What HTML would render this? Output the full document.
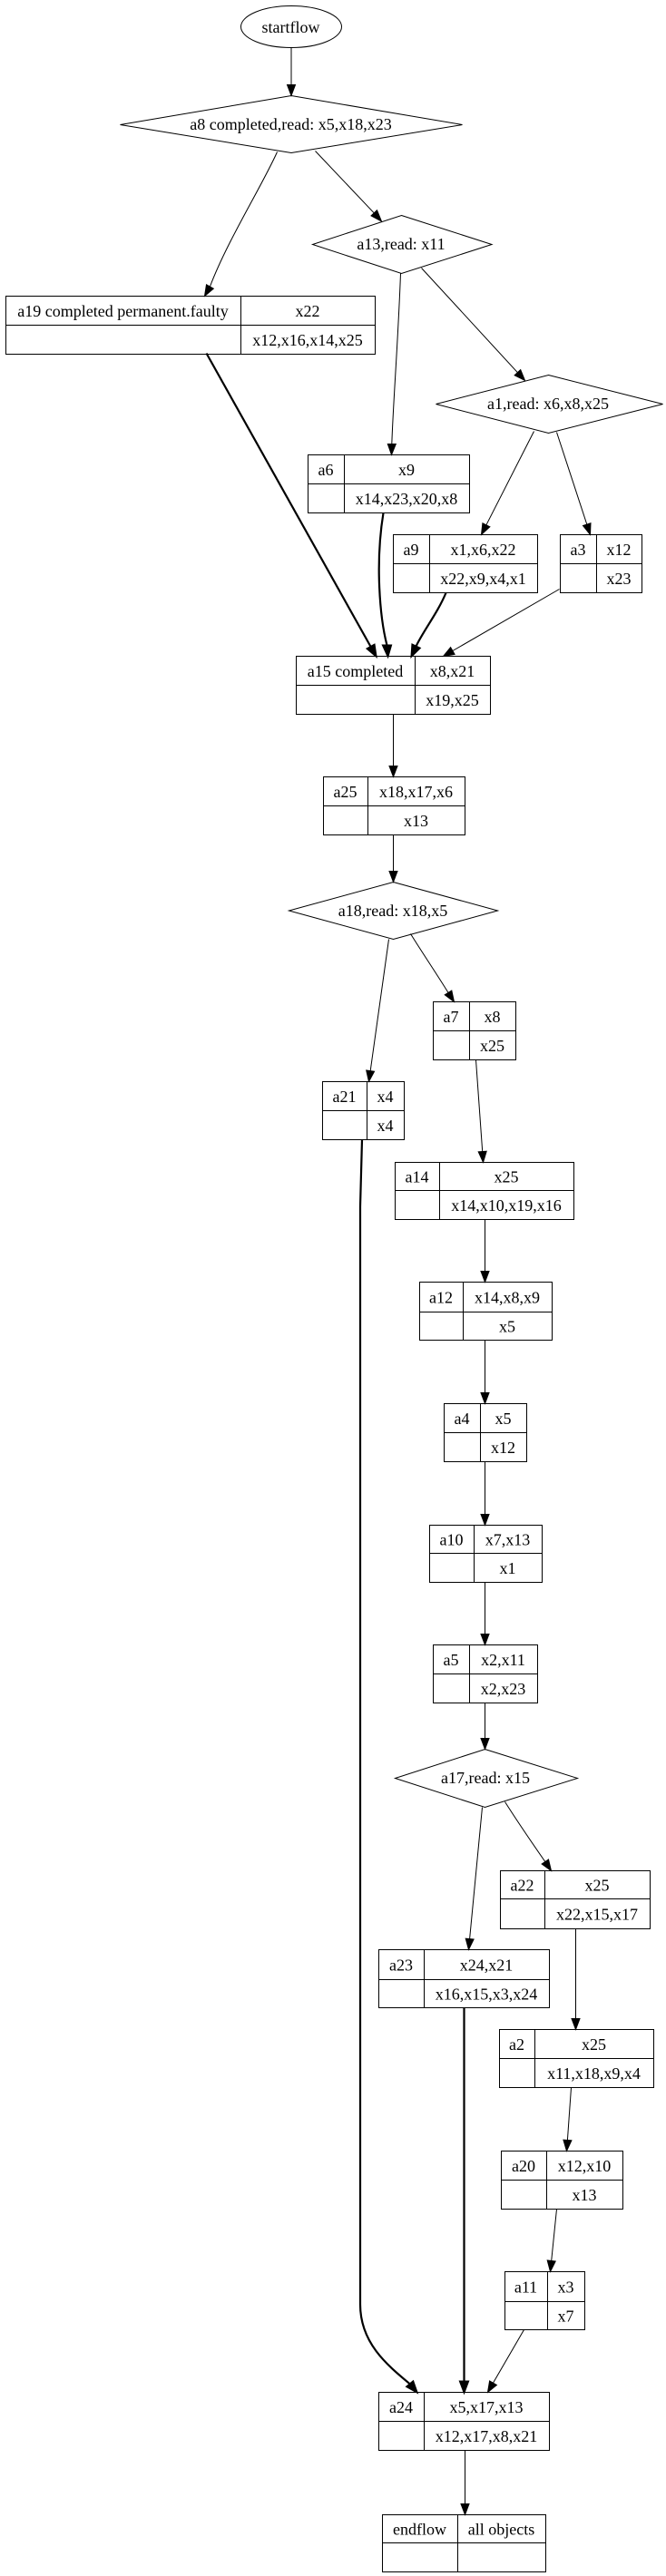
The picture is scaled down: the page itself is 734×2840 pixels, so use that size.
<!DOCTYPE html>
<html>
<head>
<meta charset="utf-8">
<style>
  html, body { margin:0; padding:0; background:#fff; }
  svg { display:block; }
  text { font-family: "Liberation Serif", "Times New Roman", serif; font-size:18px; fill:#000; text-anchor:middle; }
</style>
</head>
<body>
<svg width="734" height="2840" viewBox="0 0 734 2840" xmlns="http://www.w3.org/2000/svg">
<rect x="0" y="0" width="734" height="2840" fill="#fff"/>
<g transform="translate(0.5,0.5)" fill="none" stroke="#000" stroke-width="1">

<!-- startflow -->
<ellipse cx="320.5" cy="29" rx="55.5" ry="23"/>
<!-- diamonds -->
<polygon points="320.5,105 509,137 320.5,168 132,137"/>
<polygon points="442,237 541.5,269 442,301 344,269"/>
<polygon points="604,413 730,445 604,477 480,445"/>
<polygon points="433,972 548,1003.5 433,1035 318,1003.5"/>
<polygon points="534,1928 636,1960 534,1992 435,1960"/>

<!-- records: rect, vertical divider, horizontal divider -->
<rect x="6" y="326" width="407" height="64"/><line x1="265" y1="326" x2="265" y2="390"/><line x1="6" y1="358" x2="413" y2="358"/>
<rect x="339" y="501" width="178" height="64"/><line x1="379" y1="501" x2="379" y2="565"/><line x1="339" y1="533" x2="517" y2="533"/>
<rect x="433" y="589" width="159" height="64"/><line x1="473" y1="589" x2="473" y2="653"/><line x1="433" y1="621" x2="592" y2="621"/>
<rect x="617" y="589" width="90" height="64"/><line x1="657" y1="589" x2="657" y2="653"/><line x1="617" y1="621" x2="707" y2="621"/>
<rect x="326" y="723" width="214" height="64"/><line x1="457" y1="723" x2="457" y2="787"/><line x1="326" y1="755" x2="540" y2="755"/>
<rect x="356" y="856" width="156" height="64"/><line x1="405" y1="856" x2="405" y2="920"/><line x1="356" y1="888" x2="512" y2="888"/>
<rect x="477" y="1104" width="91" height="64"/><line x1="517" y1="1104" x2="517" y2="1168"/><line x1="477" y1="1136" x2="568" y2="1136"/>
<rect x="355" y="1192" width="90" height="64"/><line x1="404" y1="1192" x2="404" y2="1256"/><line x1="355" y1="1224" x2="445" y2="1224"/>
<rect x="435" y="1281" width="197" height="63"/><line x1="484" y1="1281" x2="484" y2="1344"/><line x1="435" y1="1312" x2="632" y2="1312"/>
<rect x="462" y="1413" width="146" height="64"/><line x1="510" y1="1413" x2="510" y2="1477"/><line x1="462" y1="1446" x2="608" y2="1446"/>
<rect x="489" y="1547" width="91" height="64"/><line x1="529" y1="1547" x2="529" y2="1611"/><line x1="489" y1="1579" x2="580" y2="1579"/>
<rect x="473" y="1681" width="124" height="63"/><line x1="522" y1="1681" x2="522" y2="1744"/><line x1="473" y1="1712" x2="597" y2="1712"/>
<rect x="477" y="1813" width="115" height="64"/><line x1="517" y1="1813" x2="517" y2="1877"/><line x1="477" y1="1845" x2="592" y2="1845"/>
<rect x="551" y="2062" width="165" height="64"/><line x1="600" y1="2062" x2="600" y2="2126"/><line x1="551" y1="2093" x2="716" y2="2093"/>
<rect x="417" y="2149" width="188" height="64"/><line x1="467" y1="2149" x2="467" y2="2213"/><line x1="417" y1="2182" x2="605" y2="2182"/>
<rect x="550" y="2237" width="170" height="64"/><line x1="589" y1="2237" x2="589" y2="2301"/><line x1="550" y1="2269" x2="720" y2="2269"/>
<rect x="552" y="2371" width="134" height="64"/><line x1="602" y1="2371" x2="602" y2="2435"/><line x1="552" y1="2403" x2="686" y2="2403"/>
<rect x="556" y="2504" width="88" height="64"/><line x1="603" y1="2504" x2="603" y2="2568"/><line x1="556" y1="2537" x2="644" y2="2537"/>
<rect x="417" y="2637" width="188" height="64"/><line x1="467" y1="2637" x2="467" y2="2701"/><line x1="417" y1="2669" x2="605" y2="2669"/>
<rect x="421" y="2772" width="180" height="63"/><line x1="504" y1="2772" x2="504" y2="2835"/><line x1="421" y1="2803" x2="601" y2="2803"/>

<!-- thin edges -->
<path d="M320.5,52 L320.5,93"/>
<path d="M305,167 C288,205 250,265 230.9,315.5"/>
<path d="M347,166 L411.7,234.3"/>
<path d="M441,301 C438,380 433,440 431.3,489"/>
<path d="M464,295 L569.9,410.2"/>
<path d="M588,475 L535.4,578.3"/>
<path d="M613,476 L646.3,577.6"/>
<path d="M616,649 L498.4,717"/>
<path d="M433,787 L433,844"/>
<path d="M433,920 L433,960"/>
<path d="M428,1035 L407.7,1180.1"/>
<path d="M452,1029 C465,1050 480,1072 493.5,1093.9"/>
<path d="M524,1168 L531.2,1269"/>
<path d="M534,1344 L534,1401"/>
<path d="M534,1477 L534,1535"/>
<path d="M534,1611 L534,1669"/>
<path d="M534,1744 L534,1801"/>
<path d="M534,1877 L534,1916"/>
<path d="M531,1992 L517.1,2137.1"/>
<path d="M556,1986 C570,2008 585,2030 600.3,2052"/>
<path d="M634,2126 L634,2225"/>
<path d="M629,2301 L624.9,2359"/>
<path d="M613,2435 L607.2,2492"/>
<path d="M577,2568 L543,2626.6"/>
<path d="M512,2701 L512,2760"/>

<!-- thick edges -->
<g stroke-width="2.2">
<path d="M227,389 L408.1,712.5"/>
<path d="M422,565 C413,620 418,680 426,711"/>
<path d="M491,653 C482,675 466,695 458,712.1"/>
<path d="M398.5,1256 L396.5,1330 L396.5,2540 C396.5,2582 425,2606 451.3,2627.8"/>
<path d="M511,2213 L511,2625"/>
</g>
</g>

<!-- arrowheads -->
<g transform="translate(0.5,0.5)" fill="#000" stroke="#000" stroke-width="1">
<polygon points="316,93 325,93 320.5,105"/>
<polygon points="234.8,317.7 227,313.3 225,326"/>
<polygon points="415,231.2 408.5,237.4 420,243.5"/>
<polygon points="426.8,489 435.8,489 431,501"/>
<polygon points="573.2,407.1 566.6,413.2 578,419"/>
<polygon points="539.4,580.3 531.4,576.3 530,589"/>
<polygon points="650.5,576.2 642,579 650,589"/>
<polygon points="500.6,720.9 496.1,713.1 488,723"/>
<polygon points="428.5,844 437.5,844 433,856"/>
<polygon points="428.5,960 437.5,960 433,972"/>
<polygon points="412.1,1180.7 403.2,1179.5 406,1192"/>
<polygon points="497.3,1091.5 489.7,1096.3 500,1104"/>
<polygon points="535.7,1268.7 526.7,1269.3 532,1281"/>
<polygon points="529.5,1401 538.5,1401 534,1413"/>
<polygon points="529.5,1535 538.5,1535 534,1547"/>
<polygon points="529.5,1669 538.5,1669 534,1681"/>
<polygon points="529.5,1801 538.5,1801 534,1813"/>
<polygon points="529.5,1916 538.5,1916 534,1928"/>
<polygon points="521.6,2137.5 512.7,2136.7 516,2149"/>
<polygon points="604,2049.5 596.6,2054.5 607,2062"/>
<polygon points="629.5,2225 638.5,2225 634,2237"/>
<polygon points="629.4,2359.3 620.4,2358.7 624,2371"/>
<polygon points="611.7,2492.5 602.7,2491.5 606,2504"/>
<polygon points="546.9,2628.9 539.1,2624.4 537,2637"/>
<polygon points="507.5,2760 516.5,2760 512,2772"/>
<g stroke-width="2">
<polygon points="412.1,710.3 404.2,714.7 414,723"/>
<polygon points="421.5,711 430.5,711 427,723"/>
<polygon points="462.1,714 453.9,710.2 453,723"/>
<polygon points="454.8,2624.9 447.8,2630.7 459,2637"/>
<polygon points="506.5,2625 515.5,2625 511,2637"/>
</g>
</g>

<!-- labels -->
<g>
<text x="320.5" y="36">startflow</text>
<text x="320.5" y="143">a8 completed,read: x5,x18,x23</text>
<text x="442" y="275">a13,read: x11</text>
<text x="604" y="451">a1,read: x6,x8,x25</text>
<text x="433" y="1010">a18,read: x18,x5</text>
<text x="535" y="1966">a17,read: x15</text>

<text x="135.5" y="349">a19 completed permanent.faulty</text>
<text x="339" y="349">x22</text>
<text x="339" y="381">x12,x16,x14,x25</text>

<text x="359" y="524">a6</text>
<text x="448" y="524">x9</text>
<text x="448" y="556">x14,x23,x20,x8</text>

<text x="453" y="612">a9</text>
<text x="532.5" y="612">x1,x6,x22</text>
<text x="532.5" y="644">x22,x9,x4,x1</text>

<text x="637" y="612">a3</text>
<text x="682" y="612">x12</text>
<text x="682" y="644">x23</text>

<text x="391.5" y="746">a15 completed</text>
<text x="498.5" y="746">x8,x21</text>
<text x="498.5" y="778">x19,x25</text>

<text x="380.5" y="879">a25</text>
<text x="458.5" y="879">x18,x17,x6</text>
<text x="458.5" y="911">x13</text>

<text x="497" y="1127">a7</text>
<text x="542.5" y="1127">x8</text>
<text x="542.5" y="1159">x25</text>

<text x="379.5" y="1215">a21</text>
<text x="424.5" y="1215">x4</text>
<text x="424.5" y="1247">x4</text>

<text x="459.5" y="1303.5">a14</text>
<text x="558" y="1303.5">x25</text>
<text x="558" y="1335">x14,x10,x19,x16</text>

<text x="486" y="1436.5">a12</text>
<text x="559" y="1436.5">x14,x8,x9</text>
<text x="559" y="1468.5">x5</text>

<text x="509" y="1570">a4</text>
<text x="554.5" y="1570">x5</text>
<text x="554.5" y="1602">x12</text>

<text x="497.5" y="1703.5">a10</text>
<text x="559.5" y="1703.5">x7,x13</text>
<text x="559.5" y="1735">x1</text>

<text x="497" y="1836">a5</text>
<text x="554.5" y="1836">x2,x11</text>
<text x="554.5" y="1868">x2,x23</text>

<text x="575.5" y="2084.5">a22</text>
<text x="658" y="2084.5">x25</text>
<text x="658" y="2116.5">x22,x15,x17</text>

<text x="442" y="2172.5">a23</text>
<text x="536" y="2172.5">x24,x21</text>
<text x="536" y="2204.5">x16,x15,x3,x24</text>

<text x="569.5" y="2260">a2</text>
<text x="654.5" y="2260">x25</text>
<text x="654.5" y="2292">x11,x18,x9,x4</text>

<text x="577" y="2394">a20</text>
<text x="644" y="2394">x12,x10</text>
<text x="644" y="2426">x13</text>

<text x="579.5" y="2527.5">a11</text>
<text x="623.5" y="2527.5">x3</text>
<text x="623.5" y="2559.5">x7</text>

<text x="442" y="2660">a24</text>
<text x="536" y="2660">x5,x17,x13</text>
<text x="536" y="2692">x12,x17,x8,x21</text>

<text x="462.5" y="2794.5">endflow</text>
<text x="552.5" y="2794.5">all objects</text>
</g>
</svg>
</body>
</html>
